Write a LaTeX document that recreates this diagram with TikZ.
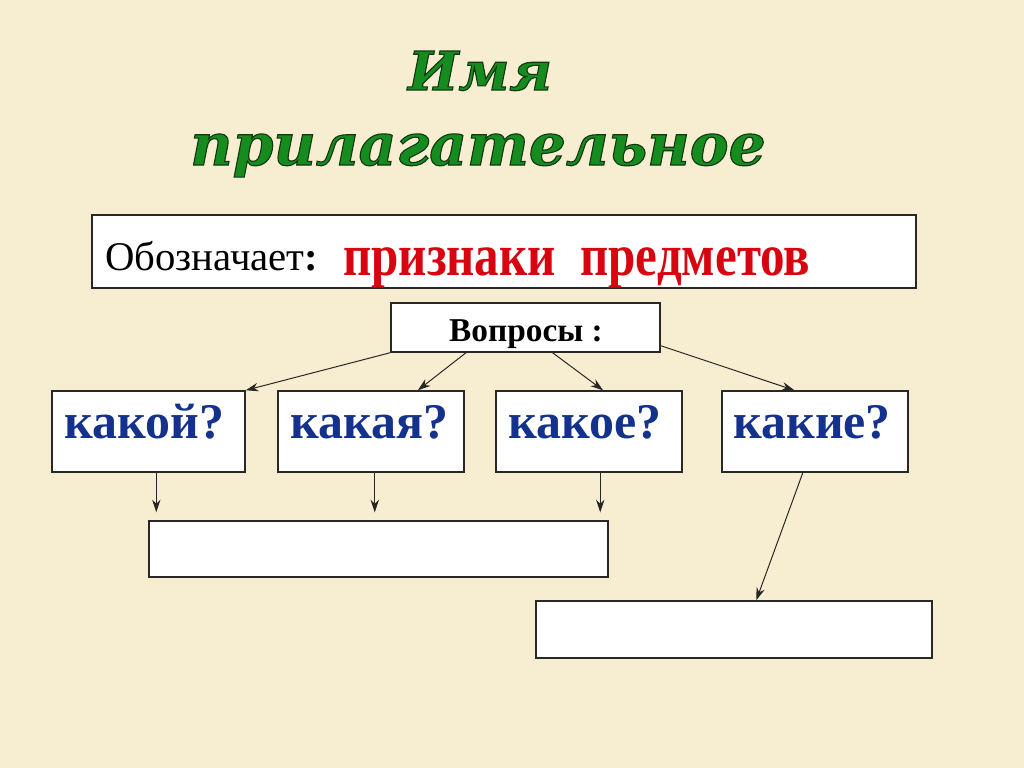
\documentclass[tikz,border=0pt]{standalone}
\usepackage{fontspec}
\setmainfont{Liberation Serif}
\newfontfamily\titlefont{DejaVu Serif}
\usetikzlibrary{arrows.meta,calc}
\definecolor{bg}{RGB}{247,237,208}
\definecolor{tgreen}{RGB}{22,140,30}
\definecolor{tred}{RGB}{215,5,15}
\definecolor{tblue}{RGB}{20,50,140}
\definecolor{frame}{RGB}{40,40,40}
\newcommand{\edgedtext}[1]{\special{pdf:literal direct 0.07 0.22 0.07 RG 0.8 w 2 Tr}#1\special{pdf:literal direct 0 Tr}}
\tikzset{
  box/.style={draw=frame, line width=1pt, fill=white, inner sep=0pt},
  arr/.style={draw=black!85, line width=0.7pt, -{Stealth[length=9pt,width=6pt]}},
  qword/.style={anchor=base west, inner sep=0pt, text=tblue, font=\fontsize{35.5}{40}\selectfont\bfseries},
  ttl/.style={anchor=base, inner sep=0pt, text=tgreen},
}
\begin{document}
\begin{tikzpicture}[x=0.025cm,y=-0.025cm]
\useasboundingbox (0,0) rectangle (1024,768);
\fill[bg] (0,0) rectangle (1024,768);
% title
\node[ttl, font=\titlefont\fontsize{38}{44}\selectfont\bfseries\itshape] (t1) at (480,90) {\edgedtext{Имя}};
\node[ttl, font=\titlefont\fontsize{41.5}{48}\selectfont\bfseries\itshape] (t2) at (478,165) {\edgedtext{прилагательное}};
% definition box
\node[box, minimum width=20.6cm, minimum height=1.825cm] (def) at (504,251.5) {};
\node[anchor=base west, inner sep=0pt, font=\fontsize{29}{34}\selectfont] (obz) at (105,270) {Обозначает\textbf{:}};
\node[anchor=base west, inner sep=0pt, text=tred, font=\fontsize{42}{48}\selectfont\bfseries] (prz) at (343,275) {\scalebox{0.83}[1]{признаки\ \ предметов}};
% questions box
\node[box, minimum width=6.725cm, minimum height=1.225cm] (q) at (525.5,327.5) {};
\node[anchor=base, inner sep=0pt, font=\fontsize{23.7}{28}\selectfont\bfseries] (qt) at (526,341) {Вопросы :};
% word boxes
\node[box, minimum width=4.825cm, minimum height=2.025cm] (w1) at (148.5,431.5) {};
\node[box, minimum width=4.65cm, minimum height=2.025cm] (w2) at (371,431.5) {};
\node[box, minimum width=4.65cm, minimum height=2.025cm] (w3) at (589,431.5) {};
\node[box, minimum width=4.65cm, minimum height=2.025cm] (w4) at (815,431.5) {};
\node[qword] (k1) at (64,438) {какой?};
\node[qword] (k2) at (290,438) {какая?};
\node[qword] (k3) at (508,438) {какое?};
\node[qword] (k4) at (733,438) {какие?};
% empty answer boxes
\node[box, minimum width=11.475cm, minimum height=1.4cm] (A) at (378.5,549) {};
\node[box, minimum width=9.9cm, minimum height=1.425cm] (B) at (734,629.5) {};
% arrows from questions
\draw[arr] (q.south west) -- (w1.north east);
\draw[arr] ($(q.south west)!0.28!(q.south east)$) -- ($(w2.north west)!0.75!(w2.north east)$);
\draw[arr] ($(q.south west)!0.6!(q.south east)$) -- ($(w3.north west)!0.575!(w3.north east)$);
\draw[arr] ($(q.south east)+(0,-7)$) -- ($(w4.north west)!0.39!(w4.north east)$);
% down arrows
\coordinate (v1) at ($(w1.south west)!0.54!(w1.south east)$);
\coordinate (v2) at ($(w2.south west)!0.52!(w2.south east)$);
\coordinate (v3) at ($(w3.south west)!0.56!(w3.south east)$);
\draw[arr, shorten >=5.7pt] (v1) -- (v1 |- A.north);
\draw[arr, shorten >=5.7pt] (v2) -- (v2 |- A.north);
\draw[arr, shorten >=5.7pt] (v3) -- (v3 |- A.north);
\draw[arr] ($(w4.south west)!0.435!(w4.south east)$) -- ($(B.north west)!0.556!(B.north east)$);
\end{tikzpicture}
\end{document}
